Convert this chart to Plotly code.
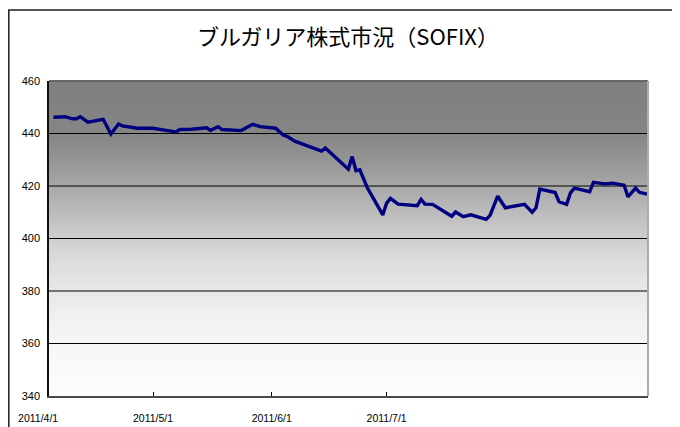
import plotly.graph_objects as go
import numpy as np
from datetime import datetime, timedelta

# ---- data ----
dates = [
    "2011-04-05", "2011-04-08", "2011-04-10", "2011-04-11", "2011-04-12", "2011-04-14",
    "2011-04-18", "2011-04-20", "2011-04-22", "2011-04-23", "2011-04-27", "2011-05-01",
    "2011-05-04", "2011-05-07", "2011-05-08", "2011-05-11", "2011-05-15", "2011-05-16",
    "2011-05-18", "2011-05-19", "2011-05-24", "2011-05-27", "2011-05-29", "2011-06-02",
    "2011-06-04", "2011-06-05", "2011-06-07", "2011-06-14", "2011-06-15", "2011-06-21",
    "2011-06-22", "2011-06-23", "2011-06-24", "2011-06-26", "2011-06-30", "2011-07-01",
    "2011-07-02", "2011-07-04", "2011-07-09", "2011-07-10", "2011-07-11", "2011-07-13",
    "2011-07-18", "2011-07-19", "2011-07-21", "2011-07-23", "2011-07-27", "2011-07-28",
    "2011-07-30", "2011-08-01", "2011-08-06", "2011-08-08", "2011-08-09", "2011-08-10",
    "2011-08-14", "2011-08-15", "2011-08-17", "2011-08-18", "2011-08-19", "2011-08-23",
    "2011-08-24", "2011-08-27", "2011-08-29", "2011-09-01", "2011-09-02", "2011-09-04",
    "2011-09-05", "2011-09-07",
]
sofix = [
    446.2, 446.4, 445.6, 445.6, 446.4, 444.3, 445.4, 439.8, 443.6, 442.9,
    442.0, 442.0, 441.3, 440.6, 441.5, 441.6, 442.2, 441.2, 442.6, 441.5,
    441.1, 443.5, 442.6, 442.0, 439.4, 438.9, 437.1, 433.3, 434.5, 426.4,
    431.2, 425.8, 426.2, 419.2, 409.0, 413.5, 415.3, 413.1, 412.5, 414.9,
    413.1, 413.0, 408.5, 410.1, 408.3, 409.0, 407.3, 408.8, 416.1, 411.7,
    413.0, 410.0, 411.7, 418.8, 417.5, 414.0, 413.0, 417.4, 419.2, 417.8,
    421.4, 420.8, 421.1, 420.3, 415.9, 419.2, 417.6, 416.9,
]
y_ticks = [340, 360, 380, 400, 420, 440, 460]
x_tick_dates = ["2011-04-01", "2011-05-01", "2011-06-01", "2011-07-01"]
x_tick_text = ["2011/4/1", "2011/5/1", "2011/6/1", "2011/7/1"]
title = "ブルガリア株式市況（SOFIX）"

# ---- layout geometry (window pixels; page body has an 8px margin) ----
W, H = 680, 427
OFF = 8


def fx(px):
    return (px - OFF) / W


def fy(py):
    return 1 - (py - OFF) / H


PL, PR, PT, PB = 49, 648, 81, 396          # plot area in window px
PX_PER_DAY = 3.83
ORIGIN = datetime(2011, 4, 1)
ORIGIN_PX = 38.1


def px_to_date(px):
    return ORIGIN + timedelta(days=(px - ORIGIN_PX) / PX_PER_DAY)


fmt = "%Y-%m-%d %H:%M:%S"
x_range = [px_to_date(PL).strftime(fmt), px_to_date(PR).strftime(fmt)]
LBL_L = 20
x2_range = [px_to_date(LBL_L).strftime(fmt), px_to_date(PR).strftime(fmt)]

fig = go.Figure()
fig.add_trace(go.Scatter(
    x=dates, y=sofix, mode="lines",
    line=dict(color="#000080", width=3.4),
    showlegend=False, hoverinfo="skip",
))
# carrier for the date-label axis (no visible marks)
fig.add_trace(go.Scatter(
    x=x_tick_dates, y=[None] * len(x_tick_dates), xaxis="x2", yaxis="y",
    mode="lines", showlegend=False, hoverinfo="skip",
))

# gradient plot background (grey at top -> near white at bottom)
stops_t = [0.0, 0.10, 0.17, 0.25, 0.33, 0.42, 0.50, 0.58, 0.67, 0.75, 0.83, 0.92, 1.0]
stops_g = [128, 130, 134, 148, 166, 188, 206, 221, 232, 240, 246, 250, 253]
N = 105
shapes = []
for i in range(N):
    t0 = i / N
    t1 = (i + 1) / N
    g = int(round(np.interp((t0 + t1) / 2, stops_t, stops_g)))
    shapes.append(dict(type="rect", xref="x domain", yref="y domain",
                       x0=0, x1=1, y0=1 - t1, y1=1 - t0 + 0.002,
                       fillcolor=f"rgb({g},{g},{g})", line=dict(width=0),
                       layer="below"))
# gridlines
for v in y_ticks[1:-1]:
    shapes.append(dict(type="line", xref="x domain", yref="y",
                       x0=0, x1=1, y0=v, y1=v,
                       line=dict(color="#000000", width=1), layer="below"))
# plot area top / right edges
shapes.append(dict(type="line", xref="x domain", yref="y domain",
                   x0=0, x1=1, y0=1, y1=1, line=dict(color="#5a5a5a", width=1.5)))
shapes.append(dict(type="line", xref="x domain", yref="y domain",
                   x0=1, x1=1, y0=0, y1=1, line=dict(color="#ababab", width=2)))
# outer chart border (cropped at right and bottom)
bx = fx(8.8)
by = fy(10)
shapes.append(dict(type="path", xref="paper", yref="paper",
                   path=f"M {bx},-0.2 L {bx},{by} L 1.2,{by}",
                   line=dict(color="#1e1e1e", width=1.5)))

fig.update_layout(
    width=W, height=H,
    margin=dict(l=0, r=0, t=0, b=0),
    paper_bgcolor="white",
    plot_bgcolor="rgba(0,0,0,0)",
    shapes=shapes,
    title=dict(text=title, x=fx(348), y=fy(37), xanchor="center", yanchor="middle",
               font=dict(family="Noto Sans CJK JP", size=22, color="#000000")),
    xaxis=dict(
        domain=[fx(PL), fx(PR)], range=x_range, type="date",
        showgrid=False, zeroline=False,
        showline=True, linecolor="#4a4a4a", linewidth=2,
        tickvals=x_tick_dates[1:], ticks="inside", ticklen=4, tickwidth=1,
        tickcolor="#000000", showticklabels=False, automargin=False,
    ),
    xaxis2=dict(
        domain=[fx(LBL_L), fx(PR)], range=x2_range, type="date",
        anchor="free", position=fy(PB),
        showgrid=False, zeroline=False, showline=False, ticks="",
        tickvals=x_tick_dates, ticktext=x_tick_text,
        ticklabelstandoff=14,
        tickfont=dict(family="Liberation Sans, Arial", size=10.5, color="#000000"),
        automargin=False,
    ),
    yaxis=dict(
        domain=[fy(PB), fy(PT)], range=[340, 460],
        tickvals=y_ticks, showgrid=False, zeroline=False,
        showline=True, linecolor="#111111", linewidth=1.5,
        ticks="", ticklabelstandoff=5,
        tickfont=dict(family="Liberation Sans, Arial", size=11, color="#000000"),
        automargin=False,
    ),
)

fig.write_html("out.html")
